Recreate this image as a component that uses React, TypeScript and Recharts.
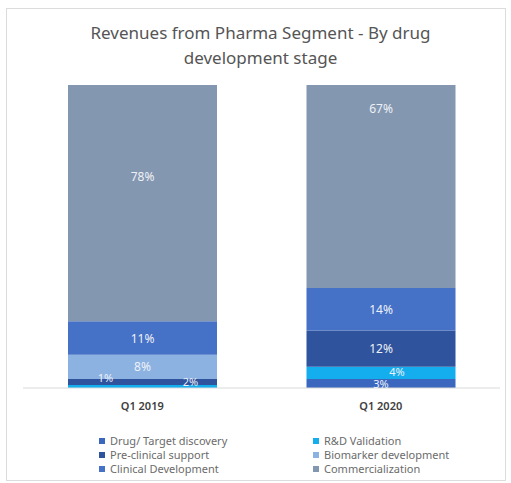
import { Bar, BarChart, LabelList, XAxis, YAxis } from "recharts";

// Quarters and the share of pharma revenue (%) for each development stage.
const quarters = ["Q1 2019", "Q1 2020"];
const drugDiscovery = [0, 3];
const rdValidation = [1, 4];
const preClinical = [2, 12];
const biomarker = [8, 0];
const clinicalDev = [11, 14];
const commercialization = [78, 67];

const data = quarters.map((quarter, i) => ({
  quarter,
  drugDiscovery: drugDiscovery[i],
  rdValidation: rdValidation[i],
  preClinical: preClinical[i],
  biomarker: biomarker[i],
  clinicalDev: clinicalDev[i],
  commercialization: commercialization[i],
}));

const series = [
  { key: "drugDiscovery", name: "Drug/ Target discovery", color: "#3b67bf" },
  { key: "rdValidation", name: "R&D Validation", color: "#14aeee" },
  { key: "preClinical", name: "Pre-clinical support", color: "#2f539c" },
  { key: "biomarker", name: "Biomarker development", color: "#8cb2e2" },
  { key: "clinicalDev", name: "Clinical Development", color: "#4571c6" },
  { key: "commercialization", name: "Commercialization", color: "#8497b0" },
];

// Hand-placed label nudges, like the ones moved by hand in the original sheet.
const labelNudge: Record<string, [number, number][]> = {
  rdValidation: [[-37, -9], [16, -1]],
  preClinical: [[48, 0], [0, 0]],
  drugDiscovery: [[0, 0], [-14, 3]],
  commercialization: [[0, -27], [0, -78]],
};

const FONT = "'Noto Sans', 'Open Sans', sans-serif";

function makeLabel(key: string) {
  return (props: any) => {
    const { x, y, width, height, value, index } = props;
    if (!value) return null;
    const [dx, dy] = labelNudge[key]?.[index] ?? [0, 0];
    const small = value < 5;
    return (
      <text
        x={x + width / 2 + dx}
        y={y + height / 2 + dy}
        textAnchor="middle"
        dominantBaseline="central"
        fill="#eef1f7"
        fontSize={small ? 11 : 12}
        fontFamily={FONT}
      >
        {value}%
      </text>
    );
  };
}

export default function App() {
  return (
    <div
      style={{
        position: "absolute",
        left: 0,
        top: 0,
        width: 511,
        height: 483,
        background: "#fff",
        fontFamily: FONT,
      }}
    >
      <div
        style={{
          position: "absolute",
          left: 6,
          top: 8,
          width: 498,
          height: 471,
          border: "1px solid #dcdcdc",
        }}
      />
      <div
        style={{
          position: "absolute",
          left: 0,
          top: 20,
          width: 521,
          textAlign: "center",
          fontSize: 17,
          lineHeight: "25px",
          color: "#555555",
        }}
      >
        Revenues from Pharma Segment - By drug
        <br />
        development stage
      </div>
      <BarChart
        width={511}
        height={483}
        data={data}
        margin={{ top: 85, right: 11, bottom: 65, left: 23 }}
        barSize={149}
        style={{ position: "absolute", left: 0, top: 0 }}
      >
        <XAxis
          dataKey="quarter"
          axisLine={{ stroke: "#d9d9d9" }}
          tickLine={false}
          height={30}
          tick={{ fill: "#404040", fontSize: 11, fontWeight: 600, fontFamily: FONT }}
          tickMargin={8}
        />
        <YAxis hide domain={[0, 100]} />
        {series.map((s) => (
          <Bar
            key={s.key}
            dataKey={s.key}
            name={s.name}
            stackId="stage"
            fill={s.color}
            isAnimationActive={false}
          >
            <LabelList dataKey={s.key} content={makeLabel(s.key)} />
          </Bar>
        ))}
      </BarChart>
      <div
        style={{
          position: "absolute",
          left: 99,
          top: 434,
          width: 410,
          display: "grid",
          gridTemplateColumns: "214px 190px",
          fontSize: 11,
          lineHeight: "14px",
          color: "#6b6b6b",
        }}
      >
        {series.map((s) => (
          <div key={s.key} style={{ display: "flex", alignItems: "center" }}>
            <span
              style={{
                display: "inline-block",
                width: 6,
                height: 6,
                background: s.color,
                marginRight: 5,
              }}
            />
            {s.name}
          </div>
        ))}
      </div>
    </div>
  );
}
